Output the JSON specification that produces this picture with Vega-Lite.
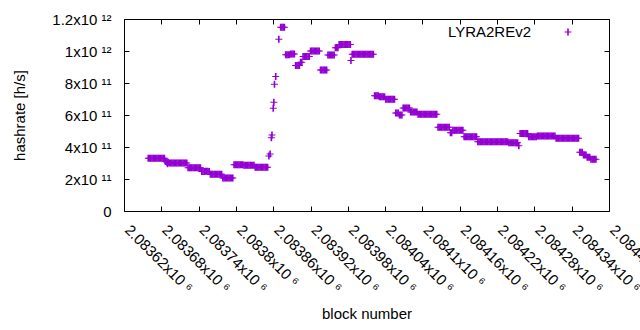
{
"$schema": "https://vega.github.io/schema/vega-lite/v6.json",
"width": 485, "height": 192,
"autosize": "none",
"padding": {"left": 124, "top": 19, "right": 31, "bottom": 119},
"background": "white",
"config": {
 "font": "Liberation Sans",
 "view": {"stroke": "#000", "strokeWidth": 1},
 "axis": {"grid": false, "domain": false, "labelFont": "Liberation Sans", "labelFontSize": 15, "labelColor": "#000", "titleFont": "Liberation Sans", "titleFontSize": 15, "titleFontWeight": "normal", "titleColor": "#000", "tickColor": "#000", "tickSize": -5, "tickWidth": 1}
},
"data": {"values": [
{"block":2083659,"hashrate":3.29e11},{"block":2083661,"hashrate":3.29e11},{"block":2083663,"hashrate":3.29e11},{"block":2083665,"hashrate":3.29e11},{"block":2083667,"hashrate":3.29e11},{"block":2083669,"hashrate":3.29e11},{"block":2083671,"hashrate":3.29e11},{"block":2083673,"hashrate":3.29e11},{"block":2083675,"hashrate":3.29e11},{"block":2083677,"hashrate":3.29e11},{"block":2083679,"hashrate":3.29e11},{"block":2083681,"hashrate":3.29e11},{"block":2083683,"hashrate":3.29e11},{"block":2083685,"hashrate":3.29e11},
{"block":2083687,"hashrate":3.09e11},{"block":2083689,"hashrate":3.05e11},{"block":2083690,"hashrate":2.95e11},{"block":2083691,"hashrate":3.04e11},
{"block":2083693,"hashrate":3.0e11},{"block":2083695,"hashrate":3.0e11},{"block":2083697,"hashrate":3.0e11},{"block":2083699,"hashrate":3.0e11},{"block":2083701,"hashrate":3.0e11},{"block":2083703,"hashrate":3.0e11},{"block":2083705,"hashrate":3.0e11},{"block":2083707,"hashrate":3.0e11},{"block":2083709,"hashrate":3.0e11},{"block":2083711,"hashrate":3.0e11},{"block":2083713,"hashrate":3.0e11},{"block":2083715,"hashrate":3.0e11},{"block":2083717,"hashrate":3.0e11},{"block":2083719,"hashrate":3.0e11},{"block":2083721,"hashrate":3.0e11},
{"block":2083723,"hashrate":2.71e11},{"block":2083725,"hashrate":2.71e11},{"block":2083727,"hashrate":2.71e11},{"block":2083729,"hashrate":2.71e11},{"block":2083731,"hashrate":2.71e11},{"block":2083733,"hashrate":2.71e11},{"block":2083735,"hashrate":2.71e11},{"block":2083737,"hashrate":2.71e11},{"block":2083739,"hashrate":2.71e11},{"block":2083741,"hashrate":2.71e11},{"block":2083743,"hashrate":2.71e11},
{"block":2083745,"hashrate":2.47e11},{"block":2083747,"hashrate":2.47e11},{"block":2083749,"hashrate":2.47e11},{"block":2083751,"hashrate":2.49e11},{"block":2083753,"hashrate":2.49e11},{"block":2083755,"hashrate":2.49e11},{"block":2083757,"hashrate":2.47e11},
{"block":2083759,"hashrate":2.3e11},{"block":2083761,"hashrate":2.3e11},{"block":2083763,"hashrate":2.3e11},{"block":2083765,"hashrate":2.3e11},{"block":2083767,"hashrate":2.3e11},{"block":2083769,"hashrate":2.3e11},{"block":2083771,"hashrate":2.3e11},{"block":2083773,"hashrate":2.3e11},{"block":2083775,"hashrate":2.3e11},{"block":2083777,"hashrate":2.3e11},
{"block":2083779,"hashrate":2.07e11},{"block":2083781,"hashrate":2.07e11},{"block":2083783,"hashrate":2.07e11},{"block":2083785,"hashrate":2.07e11},{"block":2083787,"hashrate":2.07e11},{"block":2083789,"hashrate":2.07e11},{"block":2083791,"hashrate":2.07e11},{"block":2083793,"hashrate":2.07e11},{"block":2083795,"hashrate":2.07e11},
{"block":2083797,"hashrate":2.89e11},{"block":2083799,"hashrate":2.89e11},{"block":2083801,"hashrate":2.89e11},{"block":2083803,"hashrate":2.89e11},{"block":2083805,"hashrate":2.89e11},{"block":2083807,"hashrate":2.89e11},{"block":2083809,"hashrate":2.89e11},{"block":2083811,"hashrate":2.89e11},
{"block":2083813,"hashrate":2.86e11},{"block":2083815,"hashrate":2.86e11},{"block":2083817,"hashrate":2.86e11},{"block":2083819,"hashrate":2.86e11},{"block":2083821,"hashrate":2.86e11},{"block":2083823,"hashrate":2.86e11},{"block":2083825,"hashrate":2.86e11},{"block":2083827,"hashrate":2.86e11},{"block":2083829,"hashrate":2.86e11},
{"block":2083831,"hashrate":2.74e11},{"block":2083833,"hashrate":2.74e11},{"block":2083835,"hashrate":2.74e11},{"block":2083837,"hashrate":2.74e11},{"block":2083839,"hashrate":2.74e11},{"block":2083841,"hashrate":2.74e11},{"block":2083843,"hashrate":2.74e11},{"block":2083845,"hashrate":2.74e11},{"block":2083847,"hashrate":2.74e11},{"block":2083849,"hashrate":2.74e11},{"block":2083851,"hashrate":2.74e11},
{"block":2083853,"hashrate":3.44e11},{"block":2083855,"hashrate":3.56e11},{"block":2083857,"hashrate":4.58e11},{"block":2083858,"hashrate":4.75e11},{"block":2083860,"hashrate":6.42e11},{"block":2083861,"hashrate":6.79e11},{"block":2083862,"hashrate":7.92e11},{"block":2083864,"hashrate":8.4e11},{"block":2083869,"hashrate":1.073e12},
{"block":2083872,"hashrate":1.148e12},{"block":2083874,"hashrate":1.148e12},{"block":2083876,"hashrate":1.148e12},{"block":2083878,"hashrate":1.148e12},
{"block":2083880,"hashrate":9.76e11},{"block":2083882,"hashrate":9.76e11},{"block":2083884,"hashrate":9.76e11},{"block":2083886,"hashrate":9.76e11},{"block":2083888,"hashrate":9.82e11},{"block":2083890,"hashrate":9.82e11},{"block":2083892,"hashrate":9.82e11},{"block":2083894,"hashrate":9.82e11},
{"block":2083896,"hashrate":9.1e11},{"block":2083898,"hashrate":9.1e11},{"block":2083900,"hashrate":9.1e11},{"block":2083902,"hashrate":9.1e11},
{"block":2083904,"hashrate":9.3e11},{"block":2083906,"hashrate":9.3e11},
{"block":2083908,"hashrate":9.65e11},{"block":2083910,"hashrate":9.65e11},{"block":2083912,"hashrate":9.65e11},{"block":2083914,"hashrate":9.65e11},{"block":2083916,"hashrate":9.65e11},{"block":2083918,"hashrate":9.65e11},
{"block":2083920,"hashrate":1.0e12},{"block":2083922,"hashrate":1.0e12},{"block":2083924,"hashrate":1.0e12},{"block":2083926,"hashrate":1.0e12},{"block":2083928,"hashrate":1.0e12},{"block":2083930,"hashrate":1.0e12},{"block":2083932,"hashrate":1.0e12},{"block":2083934,"hashrate":1.0e12},
{"block":2083936,"hashrate":8.81e11},{"block":2083938,"hashrate":8.81e11},{"block":2083940,"hashrate":8.81e11},{"block":2083942,"hashrate":8.81e11},{"block":2083944,"hashrate":8.81e11},{"block":2083946,"hashrate":8.81e11},
{"block":2083948,"hashrate":9.75e11},{"block":2083950,"hashrate":9.75e11},{"block":2083952,"hashrate":9.75e11},{"block":2083954,"hashrate":9.75e11},{"block":2083956,"hashrate":9.75e11},{"block":2083958,"hashrate":9.75e11},
{"block":2083960,"hashrate":1.02e12},{"block":2083962,"hashrate":1.02e12},{"block":2083964,"hashrate":1.02e12},
{"block":2083966,"hashrate":1.04e12},{"block":2083968,"hashrate":1.04e12},{"block":2083970,"hashrate":1.04e12},{"block":2083972,"hashrate":1.04e12},{"block":2083974,"hashrate":1.04e12},{"block":2083976,"hashrate":1.04e12},{"block":2083978,"hashrate":1.04e12},{"block":2083980,"hashrate":1.04e12},{"block":2083982,"hashrate":1.04e12},{"block":2083984,"hashrate":1.04e12},
{"block":2083985,"hashrate":9.4e11},
{"block":2083987,"hashrate":9.79e11},{"block":2083989,"hashrate":9.79e11},{"block":2083991,"hashrate":9.79e11},{"block":2083993,"hashrate":9.79e11},{"block":2083995,"hashrate":9.79e11},{"block":2083997,"hashrate":9.79e11},{"block":2083999,"hashrate":9.79e11},{"block":2084001,"hashrate":9.79e11},{"block":2084003,"hashrate":9.79e11},{"block":2084005,"hashrate":9.79e11},{"block":2084007,"hashrate":9.79e11},{"block":2084009,"hashrate":9.79e11},{"block":2084011,"hashrate":9.79e11},{"block":2084013,"hashrate":9.79e11},{"block":2084015,"hashrate":9.79e11},{"block":2084017,"hashrate":9.79e11},{"block":2084019,"hashrate":9.79e11},{"block":2084021,"hashrate":9.79e11},
{"block":2084023,"hashrate":7.2e11},{"block":2084025,"hashrate":7.2e11},{"block":2084027,"hashrate":7.2e11},{"block":2084029,"hashrate":7.2e11},
{"block":2084031,"hashrate":7.14e11},{"block":2084033,"hashrate":7.14e11},{"block":2084035,"hashrate":7.14e11},{"block":2084037,"hashrate":7.14e11},{"block":2084039,"hashrate":7.14e11},
{"block":2084041,"hashrate":6.98e11},{"block":2084043,"hashrate":6.98e11},{"block":2084045,"hashrate":6.98e11},{"block":2084047,"hashrate":6.98e11},{"block":2084049,"hashrate":6.98e11},{"block":2084051,"hashrate":6.98e11},{"block":2084053,"hashrate":6.98e11},{"block":2084055,"hashrate":6.98e11},
{"block":2084057,"hashrate":6.12e11},{"block":2084059,"hashrate":6.12e11},{"block":2084061,"hashrate":6.12e11},{"block":2084063,"hashrate":6.0e11},{"block":2084065,"hashrate":6.0e11},{"block":2084067,"hashrate":6.0e11},
{"block":2084069,"hashrate":6.44e11},{"block":2084071,"hashrate":6.44e11},{"block":2084073,"hashrate":6.44e11},{"block":2084075,"hashrate":6.44e11},{"block":2084077,"hashrate":6.44e11},{"block":2084079,"hashrate":6.44e11},
{"block":2084081,"hashrate":6.19e11},{"block":2084083,"hashrate":6.19e11},{"block":2084085,"hashrate":6.19e11},{"block":2084087,"hashrate":6.19e11},{"block":2084089,"hashrate":6.19e11},{"block":2084091,"hashrate":6.19e11},
{"block":2084093,"hashrate":6.04e11},{"block":2084095,"hashrate":6.04e11},{"block":2084097,"hashrate":6.04e11},{"block":2084099,"hashrate":6.04e11},{"block":2084101,"hashrate":6.04e11},{"block":2084103,"hashrate":6.04e11},{"block":2084105,"hashrate":6.04e11},{"block":2084107,"hashrate":6.04e11},{"block":2084109,"hashrate":6.04e11},{"block":2084111,"hashrate":6.04e11},{"block":2084113,"hashrate":6.04e11},{"block":2084115,"hashrate":6.04e11},{"block":2084117,"hashrate":6.04e11},{"block":2084119,"hashrate":6.04e11},{"block":2084121,"hashrate":6.04e11},{"block":2084123,"hashrate":6.04e11},
{"block":2084125,"hashrate":5.23e11},{"block":2084127,"hashrate":5.23e11},{"block":2084129,"hashrate":5.23e11},{"block":2084131,"hashrate":5.23e11},{"block":2084133,"hashrate":5.23e11},{"block":2084135,"hashrate":5.23e11},{"block":2084137,"hashrate":5.23e11},{"block":2084139,"hashrate":5.23e11},{"block":2084141,"hashrate":5.23e11},{"block":2084143,"hashrate":5.23e11},
{"block":2084145,"hashrate":4.89e11},{"block":2084147,"hashrate":4.89e11},
{"block":2084149,"hashrate":5.05e11},{"block":2084151,"hashrate":5.05e11},{"block":2084153,"hashrate":5.05e11},{"block":2084155,"hashrate":5.05e11},{"block":2084157,"hashrate":5.05e11},{"block":2084159,"hashrate":5.05e11},{"block":2084161,"hashrate":5.05e11},{"block":2084163,"hashrate":5.05e11},{"block":2084165,"hashrate":5.05e11},
{"block":2084167,"hashrate":4.64e11},{"block":2084169,"hashrate":4.64e11},{"block":2084171,"hashrate":4.64e11},{"block":2084173,"hashrate":4.64e11},{"block":2084175,"hashrate":4.64e11},{"block":2084177,"hashrate":4.64e11},{"block":2084179,"hashrate":4.64e11},{"block":2084181,"hashrate":4.64e11},{"block":2084183,"hashrate":4.64e11},{"block":2084185,"hashrate":4.64e11},{"block":2084187,"hashrate":4.64e11},
{"block":2084189,"hashrate":4.33e11},{"block":2084191,"hashrate":4.33e11},{"block":2084193,"hashrate":4.33e11},{"block":2084195,"hashrate":4.33e11},{"block":2084197,"hashrate":4.33e11},{"block":2084199,"hashrate":4.33e11},{"block":2084201,"hashrate":4.33e11},{"block":2084203,"hashrate":4.33e11},{"block":2084205,"hashrate":4.33e11},{"block":2084207,"hashrate":4.33e11},{"block":2084209,"hashrate":4.33e11},{"block":2084211,"hashrate":4.33e11},{"block":2084213,"hashrate":4.33e11},{"block":2084215,"hashrate":4.33e11},{"block":2084217,"hashrate":4.33e11},{"block":2084219,"hashrate":4.33e11},{"block":2084221,"hashrate":4.33e11},{"block":2084223,"hashrate":4.33e11},{"block":2084225,"hashrate":4.33e11},{"block":2084227,"hashrate":4.33e11},{"block":2084229,"hashrate":4.33e11},{"block":2084231,"hashrate":4.33e11},{"block":2084233,"hashrate":4.33e11},{"block":2084235,"hashrate":4.33e11},{"block":2084237,"hashrate":4.33e11},
{"block":2084239,"hashrate":4.27e11},{"block":2084241,"hashrate":4.27e11},{"block":2084243,"hashrate":4.27e11},{"block":2084245,"hashrate":4.27e11},{"block":2084247,"hashrate":4.27e11},{"block":2084249,"hashrate":4.27e11},{"block":2084251,"hashrate":4.27e11},{"block":2084253,"hashrate":4.27e11},
{"block":2084255,"hashrate":4.08e11},
{"block":2084257,"hashrate":4.85e11},{"block":2084259,"hashrate":4.85e11},{"block":2084261,"hashrate":4.85e11},{"block":2084263,"hashrate":4.85e11},{"block":2084265,"hashrate":4.85e11},{"block":2084267,"hashrate":4.85e11},{"block":2084269,"hashrate":4.85e11},
{"block":2084271,"hashrate":4.64e11},{"block":2084273,"hashrate":4.64e11},{"block":2084275,"hashrate":4.64e11},{"block":2084277,"hashrate":4.64e11},{"block":2084279,"hashrate":4.64e11},{"block":2084281,"hashrate":4.64e11},{"block":2084283,"hashrate":4.64e11},
{"block":2084285,"hashrate":4.69e11},{"block":2084287,"hashrate":4.69e11},{"block":2084289,"hashrate":4.69e11},{"block":2084291,"hashrate":4.69e11},{"block":2084293,"hashrate":4.69e11},{"block":2084295,"hashrate":4.69e11},{"block":2084297,"hashrate":4.69e11},{"block":2084299,"hashrate":4.69e11},{"block":2084301,"hashrate":4.69e11},{"block":2084303,"hashrate":4.69e11},{"block":2084305,"hashrate":4.69e11},{"block":2084307,"hashrate":4.69e11},{"block":2084309,"hashrate":4.69e11},{"block":2084311,"hashrate":4.69e11},{"block":2084313,"hashrate":4.69e11},
{"block":2084315,"hashrate":4.54e11},{"block":2084317,"hashrate":4.54e11},{"block":2084319,"hashrate":4.54e11},{"block":2084321,"hashrate":4.54e11},{"block":2084323,"hashrate":4.54e11},{"block":2084325,"hashrate":4.54e11},{"block":2084327,"hashrate":4.54e11},{"block":2084329,"hashrate":4.54e11},{"block":2084331,"hashrate":4.54e11},{"block":2084333,"hashrate":4.54e11},{"block":2084335,"hashrate":4.54e11},{"block":2084337,"hashrate":4.54e11},{"block":2084339,"hashrate":4.54e11},{"block":2084341,"hashrate":4.54e11},{"block":2084343,"hashrate":4.54e11},{"block":2084345,"hashrate":4.54e11},{"block":2084347,"hashrate":4.54e11},{"block":2084349,"hashrate":4.54e11},{"block":2084351,"hashrate":4.54e11},
{"block":2084353,"hashrate":3.67e11},{"block":2084355,"hashrate":3.67e11},{"block":2084357,"hashrate":3.67e11},
{"block":2084359,"hashrate":3.5e11},{"block":2084361,"hashrate":3.5e11},{"block":2084363,"hashrate":3.5e11},
{"block":2084365,"hashrate":3.36e11},{"block":2084367,"hashrate":3.36e11},{"block":2084369,"hashrate":3.36e11},
{"block":2084371,"hashrate":3.23e11},{"block":2084373,"hashrate":3.23e11},{"block":2084375,"hashrate":3.23e11},{"block":2084377,"hashrate":3.23e11},{"block":2084379,"hashrate":3.23e11}
]},
"layer": [
 {
  "mark": {"type": "point", "shape": "M-0.23,-1H0.23V-0.143H1V0.143H0.23V1H-0.23V0.143H-1V-0.143H-0.23Z", "size": 49, "filled": true, "strokeWidth": 0, "opacity": 1},
  "encoding": {
   "x": {"field": "block", "type": "quantitative",
     "scale": {"domain": [2083620, 2084400], "nice": false, "zero": false},
     "axis": {"title": "block number", "values": [2083620,2083680,2083740,2083800,2083860,2083920,2083980,2084040,2084100,2084160,2084220,2084280,2084340,2084400],
       "labelExpr": "format(datum.value/1e6, '.6~g') + 'x10 ⁶'",
       "labelAngle": 45, "labelAlign": "left", "labelBaseline": "middle", "labelPadding": 21, "labelOffset": 3, "labelFlush": false, "labelOverlap": false, "labelBound": false, "titlePadding": 11}},
   "y": {"field": "hashrate", "type": "quantitative",
     "scale": {"domain": [0, 1.2e12], "nice": false, "zero": true},
     "axis": {"title": "hashrate [h/s]", "values": [0, 2e11, 4e11, 6e11, 8e11, 1e12, 1.2e12],
       "labelExpr": "datum.value == 0 ? '0' : (datum.value < 9.9e11 ? format(datum.value/1e11, '.2~g') + 'x10 ¹¹' : format(datum.value/1e12, '.2~g') + 'x10 ¹²')",
       "labelPadding": 18, "labelFlush": false, "labelOverlap": false, "titlePadding": 24}},
   "color": {"datum": "LYRA2REv2", "type": "nominal", "scale": {"range": ["#9400d3"]},
     "legend": {"orient": "none", "legendX": 436.5, "legendY": 5.5, "title": null, "padding": 0,
       "symbolType": "M-0.23,-1H0.23V-0.143H1V0.143H0.23V1H-0.23V0.143H-1V-0.143H-0.23Z", "symbolSize": 49, "symbolStrokeWidth": 0, "symbolFillColor": "#9400d3",
       "labelFont": "Liberation Sans", "labelFontSize": 15, "labelColor": "#000", "labelAlign": "right", "labelOffset": -44.5, "labelLimit": 0}}
  }
 },
 {
  "mark": {"type": "point", "opacity": 0},
  "encoding": {
   "x": {"field": "block", "type": "quantitative", "axis": {"orient": "top", "labels": false, "title": null, "values": [2083620,2083680,2083740,2083800,2083860,2083920,2083980,2084040,2084100,2084160,2084220,2084280,2084340,2084400]}},
   "y": {"field": "hashrate", "type": "quantitative", "axis": {"orient": "right", "labels": false, "title": null, "values": [0, 2e11, 4e11, 6e11, 8e11, 1e12, 1.2e12]}}
  }
 }
],
"resolve": {"axis": {"x": "independent", "y": "independent"}}
}
